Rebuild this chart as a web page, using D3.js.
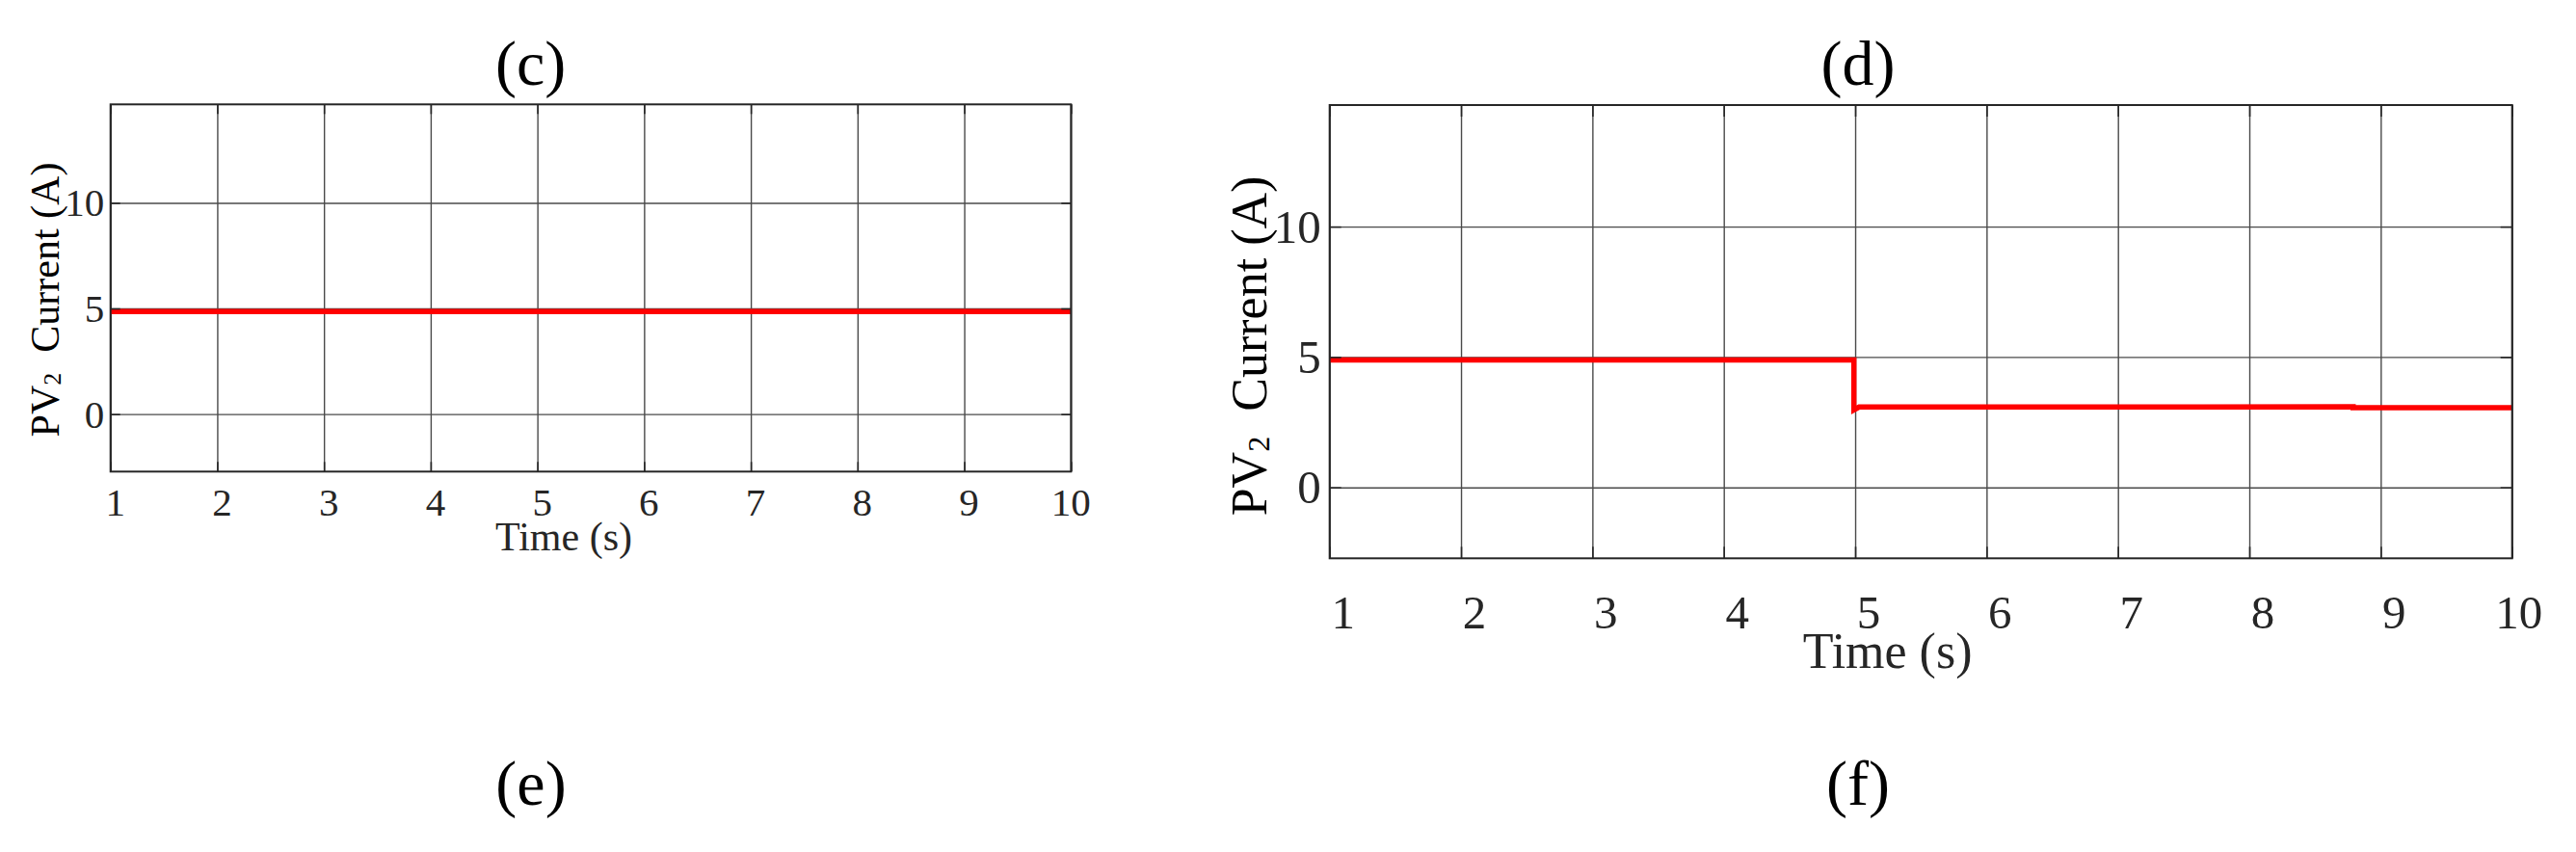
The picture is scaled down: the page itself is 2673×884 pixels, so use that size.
<!DOCTYPE html>
<html>
<head>
<meta charset="utf-8">
<script src="https://cdn.jsdelivr.net/npm/d3@7"></script>
<style>
  html, body { margin: 0; padding: 0; background: #ffffff; }
  svg { display: block; }
  text { font-family: "Liberation Serif", "Times New Roman", serif; }
</style>
</head>
<body>
<svg id="chart" width="2673" height="884"></svg>
<script>
// ---------------- data ----------------
const timeTicks = [1, 2, 3, 4, 5, 6, 7, 8, 9, 10];
const currentTicks = [0, 5, 10];
const timeDomain = [1, 10];
const currentDomain = [-2.72, 14.66];

// panel (c): PV2 current, constant
const cTime = [1, 10];
const cCurrent = [4.85, 4.85];

// panel (d): PV2 current, step down near t = 5 s
const dTime = [1, 4.99, 4.99, 5.03, 8.79, 8.79, 10];
const dCurrent = [4.89, 4.89, 2.97, 3.08, 3.09, 3.06, 3.06];

const topTitles = ["(c)", "(d)"];
const bottomTitles = ["(e)", "(f)"];
const xAxisTitle = "Time (s)";
const yAxisTitle = ["PV", "2", "  Current (A)"];

// ---------------- layout ----------------
const svg = d3.select("#chart");
svg.append("rect").attr("width", 2673).attr("height", 884).attr("fill", "#fff");

const panels = [
  { time: cTime, current: cCurrent, title: topTitles[0], bottomTitle: bottomTitles[0],
    left: 114.7, right: 1111.3, top: 108.3, bottom: 489.3,
    tickFont: 41, labelFont: 42, tickLen: 10, lineW: 5.5,
    xTickBase: 535, xTickDx: d => d >= 10 ? 0 : 5, yTickRight: 108.3,
    xLabelCx: 585, xLabelBase: 571, yLabelX: 61, yLabelCy: 311,
    titleCx: 550.7, bottomTitleCx: 551 },
  { time: dTime, current: dCurrent, title: topTitles[1], bottomTitle: bottomTitles[1],
    left: 1379.7, right: 2606.7, top: 109, bottom: 579.3,
    tickFont: 49, labelFont: 52, tickLen: 12, lineW: 5.5,
    xTickBase: 651.7, xTickDx: d => d >= 10 ? 7 : 14, yTickRight: 1370.7,
    xLabelCx: 1958.6, xLabelBase: 693, yLabelX: 1314, yLabelCy: 359,
    titleCx: 1928, bottomTitleCx: 1928 }
];

const gridColor = "#4a4a4a";
const axisColor = "#262626";

panels.forEach(p => {
  const x = d3.scaleLinear().domain(timeDomain).range([p.left, p.right]);
  const y = d3.scaleLinear().domain(currentDomain).range([p.bottom, p.top]);
  const w = p.right - p.left, h = p.bottom - p.top;
  const g = svg.append("g");

  // grid lines
  const gx = g.append("g").attr("transform", `translate(0,${p.bottom})`)
    .call(d3.axisBottom(x).tickValues(timeTicks).tickSize(-h).tickFormat(""));
  gx.select(".domain").remove();
  gx.selectAll("line").attr("stroke", gridColor).attr("stroke-width", 1.4);

  const gy = g.append("g").attr("transform", `translate(${p.left},0)`)
    .call(d3.axisLeft(y).tickValues(currentTicks).tickSize(-w).tickFormat(""));
  gy.select(".domain").remove();
  gy.selectAll("line").attr("stroke", gridColor).attr("stroke-width", 1.4);

  // data line
  const pts = p.time.map((t, i) => [t, p.current[i]]);
  g.append("path")
    .datum(pts)
    .attr("fill", "none")
    .attr("stroke", "#ff0000")
    .attr("stroke-width", p.lineW)
    .attr("stroke-linejoin", "miter")
    .attr("d", d3.line().x(d => x(d[0])).y(d => y(d[1])));

  // inner ticks on all four sides
  const tickAxes = [
    [d3.axisBottom(x).tickValues(timeTicks), `translate(0,${p.bottom})`],
    [d3.axisTop(x).tickValues(timeTicks), `translate(0,${p.top})`],
    [d3.axisLeft(y).tickValues(currentTicks), `translate(${p.left},0)`],
    [d3.axisRight(y).tickValues(currentTicks), `translate(${p.right},0)`]
  ];
  tickAxes.forEach(([ax, tr]) => {
    const a = g.append("g").attr("transform", tr)
      .call(ax.tickSizeInner(-p.tickLen).tickSizeOuter(0).tickFormat(""));
    a.select(".domain").remove();
    a.selectAll("line").attr("stroke", axisColor).attr("stroke-width", 1.6);
  });

  // box
  g.append("rect")
    .attr("x", p.left).attr("y", p.top).attr("width", w).attr("height", h)
    .attr("fill", "none").attr("stroke", axisColor).attr("stroke-width", 2);

  // x tick labels
  g.selectAll("text.xt").data(timeTicks).enter().append("text")
    .attr("class", "xt")
    .attr("x", d => x(d) + p.xTickDx(d))
    .attr("y", p.xTickBase)
    .attr("text-anchor", "middle")
    .attr("font-size", p.tickFont)
    .attr("fill", axisColor)
    .text(d => d);

  // y tick labels
  g.selectAll("text.yt").data(currentTicks).enter().append("text")
    .attr("class", "yt")
    .attr("x", p.yTickRight)
    .attr("y", d => y(d))
    .attr("dy", "0.34em")
    .attr("text-anchor", "end")
    .attr("font-size", p.tickFont)
    .attr("fill", axisColor)
    .text(d => d);

  // x axis title
  g.append("text")
    .attr("x", p.xLabelCx).attr("y", p.xLabelBase)
    .attr("text-anchor", "middle")
    .attr("font-size", p.labelFont)
    .attr("fill", axisColor)
    .text(xAxisTitle);

  // y axis title
  const yl = g.append("text")
    .attr("transform", `translate(${p.yLabelX},${p.yLabelCy}) rotate(-90)`)
    .attr("text-anchor", "middle")
    .attr("font-size", p.labelFont)
    .attr("fill", "#000")
    .style("white-space", "pre");
  yl.append("tspan").text(yAxisTitle[0]);
  yl.append("tspan").attr("font-size", p.labelFont * 0.62).attr("dy", "0.08em").text(yAxisTitle[1]);
  yl.append("tspan").attr("dy", "-0.05em").text(yAxisTitle[2]);

  // panel titles
  svg.append("text")
    .attr("x", p.titleCx).attr("y", 88)
    .attr("text-anchor", "middle")
    .attr("font-size", 66)
    .attr("fill", "#000")
    .text(p.title);
  svg.append("text")
    .attr("x", p.bottomTitleCx).attr("y", 835)
    .attr("text-anchor", "middle")
    .attr("font-size", 66)
    .attr("fill", "#000")
    .text(p.bottomTitle);
});
</script>
</body>
</html>
